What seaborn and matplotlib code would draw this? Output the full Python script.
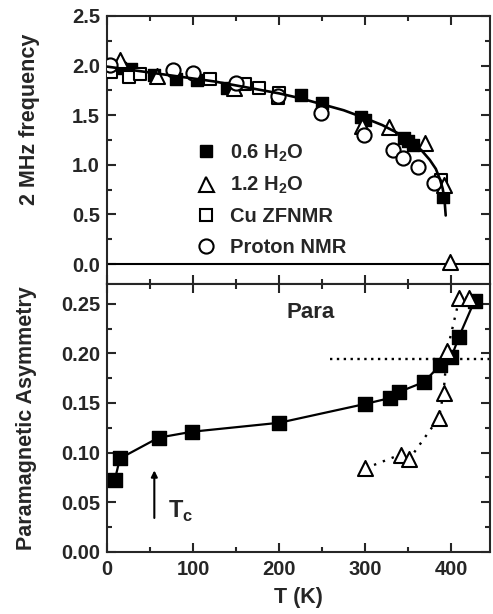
import matplotlib
matplotlib.use("Agg")
import matplotlib.pyplot as plt
import seaborn as sns
from matplotlib.lines import Line2D
from matplotlib.ticker import MultipleLocator

# ---------------- data ----------------
# top panel: frequency (MHz) vs T (K)
t_sq06 = [15, 28, 55, 80, 105, 140, 225, 250, 295, 300, 345, 350, 355, 390]
f_sq06 = [1.98, 1.97, 1.91, 1.86, 1.85, 1.77, 1.70, 1.62, 1.48, 1.45, 1.27, 1.24, 1.20, 0.68]

t_tri12 = [15, 58, 148, 296, 328, 370, 392, 398]
f_tri12 = [2.06, 1.90, 1.77, 1.39, 1.38, 1.22, 0.80, 0.02]

t_cu = [5, 25, 38, 120, 160, 177, 200, 199, 388]
f_cu = [1.94, 1.89, 1.92, 1.86, 1.81, 1.77, 1.72, 1.67, 0.85]

t_proton = [3, 77, 100, 150, 199, 249, 299, 332, 344, 361, 380]
f_proton = [2.01, 1.96, 1.93, 1.82, 1.69, 1.52, 1.30, 1.15, 1.07, 0.98, 0.82]

# fitted curve, points
t_fit = [0, 25, 50, 75, 100, 125, 150, 175, 200, 225, 250, 275, 300, 320, 340,
         355, 365, 375, 382, 387, 390, 392, 393.5]
f_fit = [1.99, 1.96, 1.93, 1.90, 1.87, 1.84, 1.80, 1.76, 1.72, 1.67, 1.61, 1.55,
         1.47, 1.40, 1.31, 1.22, 1.15, 1.05, 0.96, 0.85, 0.76, 0.66, 0.49]

# bottom panel: paramagnetic asymmetry vs T (K)
t_para06 = [9, 15, 60, 99, 200, 300, 329, 339, 368, 387, 400, 409, 427]
a_para06 = [0.072, 0.094, 0.115, 0.121, 0.130, 0.149, 0.155, 0.161, 0.171,
            0.188, 0.196, 0.217, 0.253]
a_err06 = [0.004] * len(t_para06)

t_para12 = [300, 341, 351, 385.5, 391, 395, 409.5, 420]
a_para12 = [0.084, 0.098, 0.093, 0.135, 0.160, 0.202, 0.256, 0.256]

para_level = 0.194
para_level_t = [259, 445]

legend_labels = [r"0.6 H$_\mathregular{2}$O", r"1.2 H$_\mathregular{2}$O",
                 "Cu ZFNMR", "Proton NMR"]

# ---------------- style ----------------
sns.set_style("ticks")
plt.rcParams["font.family"] = ["Liberation Sans", "DejaVu Sans"]
plt.rcParams["font.weight"] = "bold"
plt.rcParams["axes.labelweight"] = "bold"
plt.rcParams["mathtext.fontset"] = "custom"
plt.rcParams["mathtext.rm"] = "Liberation Sans:bold"
plt.rcParams["axes.linewidth"] = 1.5

TICK_FS = 14.5
LAB_FS = 15.5

fig = plt.figure(figsize=(4.93, 6.14), dpi=100)
ax1 = fig.add_axes([0.217, 0.5375, 0.777, 0.4365])
ax2 = fig.add_axes([0.217, 0.1015, 0.777, 0.436])

MS_SQ = 9.0
MS_SQ2 = 9.6
MS_O = 10.2
MS_TRI = 10.8
MEW = 1.5

# ---------- top panel ----------
sns.scatterplot(x=t_sq06, y=f_sq06, marker="s", s=MS_SQ**2, color="black",
                edgecolor="black", linewidth=1.0, ax=ax1, zorder=3)
sns.scatterplot(x=t_cu, y=f_cu, marker="s", s=MS_SQ**2, color="white",
                edgecolor="black", linewidth=MEW, ax=ax1, zorder=3)
sns.scatterplot(x=t_tri12, y=f_tri12, marker="^", s=MS_TRI**2, color="white",
                edgecolor="black", linewidth=MEW, ax=ax1, zorder=3)
sns.scatterplot(x=t_proton, y=f_proton, marker="o", s=MS_O**2, color="white",
                edgecolor="black", linewidth=MEW, ax=ax1, zorder=3)
sns.lineplot(x=t_fit, y=f_fit, color="black", linewidth=1.9, sort=False,
             estimator=None, ax=ax1, zorder=4)
ax1.axhline(0.0, color="black", linewidth=1.5, zorder=2)

ax1.set_xlim(0, 445)
ax1.set_ylim(-0.2, 2.5)
ax1.xaxis.set_major_locator(MultipleLocator(100))
ax1.xaxis.set_minor_locator(MultipleLocator(50))
ax1.set_yticks([0.0, 0.5, 1.0, 1.5, 2.0, 2.5])
ax1.set_yticklabels(["0.0", "0.5", "1.0", "1.5", "2.0", "2.5"])
ax1.yaxis.set_minor_locator(MultipleLocator(0.25))
ax1.tick_params(axis="x", labelbottom=False)
ax1.set_xlabel("")
ax1.set_ylabel("2 MHz frequency", fontsize=LAB_FS)
ax1.yaxis.set_label_coords(-0.175, 0.616)

handles = [
    Line2D([], [], ls="none", marker="s", ms=MS_SQ * 0.95, mfc="black", mec="black"),
    Line2D([], [], ls="none", marker="^", ms=MS_TRI, mfc="white", mec="black", mew=MEW),
    Line2D([], [], ls="none", marker="s", ms=MS_SQ * 0.95, mfc="white", mec="black", mew=MEW),
    Line2D([], [], ls="none", marker="o", ms=MS_O, mfc="white", mec="black", mew=MEW),
]
ax1.legend(handles, legend_labels, loc="center left", bbox_to_anchor=(0.233, 0.315),
           frameon=False, fontsize=TICK_FS, borderpad=0, borderaxespad=0,
           handlelength=0.95, handletextpad=0.75, labelspacing=0.56)

# ---------- bottom panel ----------
ax2.errorbar(t_para06, a_para06, yerr=a_err06, fmt="none", ecolor="black",
             elinewidth=1.2, capsize=3.5, capthick=1.2, zorder=2)
sns.lineplot(x=t_para06, y=a_para06, color="black", linewidth=1.6, sort=False,
             estimator=None, ax=ax2, zorder=2)
sns.scatterplot(x=t_para06, y=a_para06, marker="s", s=MS_SQ2**2, color="black",
                edgecolor="black", linewidth=1.0, ax=ax2, zorder=3)
sns.lineplot(x=t_para12, y=a_para12, color="black", linewidth=1.7, sort=False,
             estimator=None, ax=ax2, zorder=2, linestyle=(0, (1, 3)))
sns.scatterplot(x=t_para12, y=a_para12, marker="^", s=MS_TRI**2, color="white",
                edgecolor="black", linewidth=MEW, ax=ax2, zorder=4)
sns.lineplot(x=para_level_t, y=[para_level, para_level], color="black",
             linewidth=1.7, linestyle=(0, (1, 1.9)), ax=ax2, zorder=1)

ax2.annotate("", xy=(55, 0.082), xytext=(55, 0.034),
             arrowprops=dict(arrowstyle="-|>", color="black", lw=1.5,
                             mutation_scale=9, shrinkA=0, shrinkB=0))
ax2.text(71, 0.034, r"T$_\mathregular{c}$", fontsize=17, ha="left",
         va="baseline")
ax2.text(237, 0.241, "Para", fontsize=16, fontweight="bold", ha="center",
         va="center")

ax2.set_xlim(0, 445)
ax2.set_ylim(0, 0.27)
ax2.xaxis.set_major_locator(MultipleLocator(100))
ax2.xaxis.set_minor_locator(MultipleLocator(50))
ax2.set_yticks([0.0, 0.05, 0.10, 0.15, 0.20, 0.25])
ax2.set_yticklabels(["0.00", "0.05", "0.10", "0.15", "0.20", "0.25"])
ax2.yaxis.set_minor_locator(MultipleLocator(0.025))
ax2.set_xlabel("T (K)", fontsize=LAB_FS, labelpad=6)
ax2.set_ylabel("Paramagnetic Asymmetry", fontsize=LAB_FS)
ax2.yaxis.set_label_coords(-0.183, 0.5)

for ax in (ax1, ax2):
    ax.tick_params(which="both", direction="in", top=True, right=True,
                   labelsize=TICK_FS, width=1.5)
    ax.tick_params(which="major", length=6.5)
    ax.tick_params(which="minor", length=3.6)
    ax.tick_params(axis="y", pad=5)
    ax.tick_params(axis="x", pad=6)
    for sp in ax.spines.values():
        sp.set_linewidth(1.5)
        sp.set_visible(True)

fig.savefig("out.png", dpi=100)
